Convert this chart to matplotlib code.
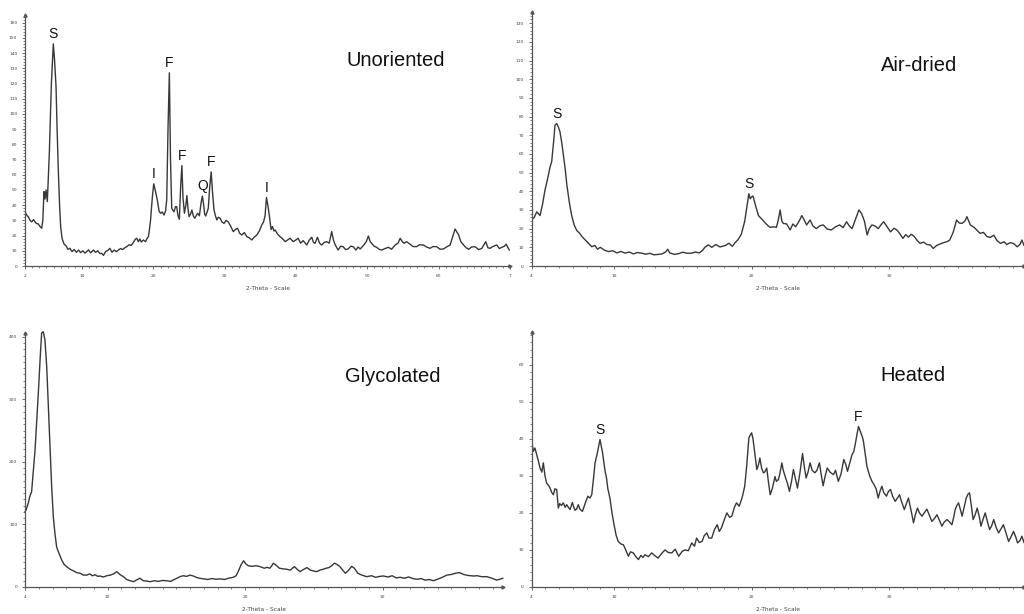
import numpy as np
import matplotlib
matplotlib.use("Agg")
import matplotlib.pyplot as plt
from matplotlib.ticker import MultipleLocator, FixedLocator, FixedFormatter

# ---------------- data ----------------
# Unoriented
unor_2theta = [2.0, 2.3, 2.47, 2.7, 2.94, 3.2, 3.4, 3.6, 3.87, 4.1, 4.34, 4.5, 4.66, 4.8, 4.95, 5.13, 5.41, 5.7,
               5.97, 6.15, 6.35, 6.5, 6.67, 6.85, 7.0, 7.2, 7.47, 7.8, 8.0, 8.3, 8.6, 8.9, 9.2, 9.5, 9.8, 10.1,
               10.4, 10.65, 10.9, 11.2, 11.6, 11.9, 12.2, 12.5, 12.76, 13.0, 13.3, 13.6, 13.9, 14.2, 14.5, 14.8,
               15.1, 15.4, 15.7, 16.0, 16.26, 16.6, 16.9, 17.2, 17.45, 17.67, 17.9, 18.1, 18.3, 18.6, 18.9, 19.1,
               19.3, 19.45, 19.6, 19.85, 20.05, 20.3, 20.55, 20.8, 21.0, 21.25, 21.5, 21.7, 21.87, 22.05, 22.24,
               22.4, 22.57, 22.75, 22.9, 23.1, 23.27, 23.45, 23.64, 23.85, 24.0, 24.15, 24.35, 24.55, 24.7, 24.85,
               25.0, 25.2, 25.4, 25.6, 25.8, 26.0, 26.2, 26.45, 26.7, 26.87, 27.05, 27.2, 27.34, 27.5, 27.7, 27.9,
               28.1, 28.3, 28.5, 28.7, 28.9, 29.1, 29.35, 29.6, 29.9, 30.2, 30.5, 30.85, 31.2, 31.5, 31.8, 32.1,
               32.4, 32.75, 33.1, 33.45, 33.8, 34.15, 34.5, 34.85, 35.2, 35.45, 35.66, 35.85, 36.05, 36.26, 36.5,
               36.7, 36.9, 37.06, 37.4, 37.76, 38.1, 38.47, 38.8, 39.17, 39.6, 39.95, 40.3, 40.65, 41.0, 41.5,
               41.85, 42.2, 42.45, 42.67, 43.0, 43.3, 43.6, 43.95, 44.3, 44.65, 45.0, 45.25, 45.5, 45.9, 46.25,
               46.6, 46.95, 47.3, 47.65, 48.0, 48.4, 48.7, 49.0, 49.5, 49.85, 50.15, 50.4, 50.6, 50.95, 51.3,
               51.65, 52.0, 52.5, 52.95, 53.4, 53.9, 54.3, 54.6, 54.9, 55.15, 55.5, 56.0, 56.4, 56.9, 57.3, 57.86,
               58.3, 58.8, 59.2, 59.7, 60.2, 60.67, 61.1, 61.6, 61.95, 62.3, 62.8, 63.1, 63.5, 63.85, 64.2, 64.6,
               65.1, 65.6, 66.05, 66.6, 66.9, 67.2, 67.6, 68.15, 68.5, 68.86, 69.2, 69.46, 69.9]
unor_counts = [35.7, 33, 32.4, 30, 29, 30.5, 29, 28, 27.6, 26, 24.8, 30, 48.9, 44, 50, 42.3, 74, 120,
               146, 135, 118, 90, 63, 40, 25.9, 18, 14.5, 13, 11, 11.6, 9.5, 10.8, 9, 10.5, 8.8, 10,
               8.5, 9.4, 10.6, 8.7, 10.5, 9, 10, 8.2, 8.3, 7, 9.5, 10.2, 11.6, 9, 10.5, 9.4,
               10.5, 11.5, 10.8, 12, 12.7, 14, 13.5, 15.5, 17.5, 18.2, 16, 17.8, 15.8, 17.1, 16, 18,
               19.3, 24, 30, 45, 54, 49, 43.4, 36, 34.7, 35.5, 33.5, 36, 43.4, 90, 127,
               70, 38, 36.5, 35.7, 39, 39, 33, 30.7, 55, 66, 45, 34.7, 40, 46.3, 38,
               32.4, 34, 36.8, 33, 31.4, 33, 34.7, 33, 42, 46, 40, 34, 32.9, 35, 38, 52,
               61.8, 48, 36.8, 33, 30.3, 32, 31.4, 29, 28, 30, 29, 26, 22.6, 24, 24.8, 21.5,
               20.4, 22, 19.3, 18.5, 17.1, 19, 20.4, 23, 27, 29, 33, 45, 40, 33, 24,
               25.9, 23, 23.7, 21, 19.3, 18, 16, 17, 18.2, 16, 17, 18.2, 15, 16.7, 13.8,
               17, 18.9, 15.5, 14.9, 18.9, 15, 13.8, 15.5, 16, 15, 22.6, 17, 13.8, 10.5, 13,
               12.7, 10.8, 11.2, 13, 12.7, 10.5, 12.5, 11.2, 13.8, 16, 19.7, 16, 14.9, 13, 12.3,
               11, 10.5, 11.5, 12.3, 11, 13.8, 15, 18.2, 16, 14.9, 16, 14.3, 12.8, 12.7, 14, 13.8,
               12.5, 11.6, 12.8, 12.7, 11, 11.2, 12.5, 13.8, 19, 24.3, 20.4, 16, 13.8, 12, 11, 12.5,
               12.7, 10.8, 11.6, 16, 12, 11.6, 12.8, 13.8, 11.5, 12.3, 13, 14.3, 10.5]
unor_peak_x = [5.97, 22.24, 20.05, 24.0, 26.87, 28.1, 35.85]
unor_peak_y = [146, 127, 54, 66, 46, 61.8, 45]
unor_peak_lab = ["S", "F", "I", "F", "Q", "F", "I"]

# Air-dried
air_2theta = [4.0, 4.2, 4.38, 4.5, 4.62, 4.8, 4.98, 5.15, 5.35, 5.47, 5.6, 5.71, 5.83, 5.95, 6.07, 6.2, 6.31,
              6.45, 6.56, 6.75, 6.92, 7.1, 7.29, 7.5, 7.7, 7.9, 8.1, 8.38, 8.6, 8.8, 9.0, 9.3, 9.6, 9.9, 10.2,
              10.5, 10.8, 11.1, 11.4, 11.7, 12.0, 12.3, 12.6, 12.9, 13.2, 13.5, 13.75, 13.9, 14.05, 14.4, 14.7,
              15.0, 15.3, 15.65, 15.9, 16.2, 16.45, 16.6, 16.85, 17.1, 17.4, 17.7, 18.1, 18.35, 18.6, 18.8,
              19.0, 19.25, 19.5, 19.7, 19.8, 19.9, 20.0, 20.1, 20.3, 20.5, 20.75, 21.0, 21.2, 21.35, 21.6,
              21.8, 21.95, 22.07, 22.2, 22.3, 22.55, 22.8, 23.0, 23.2, 23.45, 23.65, 23.8, 24.0, 24.25, 24.45,
              24.7, 24.95, 25.2, 25.5, 25.8, 26.1, 26.4, 26.65, 26.9, 27.1, 27.3, 27.55, 27.8, 28.0, 28.2,
              28.4, 28.55, 28.75, 29.0, 29.2, 29.4, 29.6, 29.85, 30.1, 30.35, 30.56, 30.8, 31.0, 31.2, 31.4,
              31.6, 31.8, 32.05, 32.25, 32.5, 32.75, 33.0, 33.2, 33.45, 33.7, 33.95, 34.2, 34.4, 34.65, 34.9,
              35.1, 35.3, 35.5, 35.65, 35.9, 36.2, 36.4, 36.6, 36.85, 37.1, 37.35, 37.6, 37.85, 38.1, 38.35,
              38.55, 38.8, 39.05, 39.3, 39.5, 39.65, 39.8]
air_counts = [24.6, 26, 29, 28, 27, 33, 40.6, 46, 53, 56, 66, 75.4, 76.3, 74.5, 71.8, 66, 60,
              52, 44, 34, 27, 22, 19, 17.5, 15.5, 14, 12.5, 10.3, 11, 9, 10, 8.5, 7.7, 8.2, 7,
              7.8, 6.9, 7.5, 6.5, 7.2, 6.9, 6.3, 6.8, 6.0, 6.2, 6.5, 7.5, 9, 7, 6.2, 6.6,
              7.4, 6.8, 6.9, 7.5, 7, 8.5, 10, 11.3, 10, 11.5, 10.2, 11, 12.2, 10.5, 12.5,
              14, 17, 24, 34, 38.7, 36, 37, 37.5, 32, 27, 25, 23, 21.5, 20.7, 21,
              20.7, 25, 30, 24, 22.8, 22.5, 19.3, 22.5, 21, 24, 27, 25, 22, 24.6, 21.5,
              20, 21.5, 22, 19.8, 19.3, 21, 22, 20.5, 23.7, 21.5, 20, 25, 30, 28, 24,
              16.6, 20, 22, 21.3, 20, 22, 23.7, 21, 18.3, 20.2, 19.3, 17, 14.8, 16.8, 15.5,
              17, 16, 13.5, 12.1, 12.8, 11.5, 11.2, 9.4, 11, 11.8, 12.5, 13, 13.9, 18, 24.6,
              23, 22.8, 24, 26.4, 22, 20.5, 19, 17.5, 18, 15.8, 15.3, 16.5, 13.5, 12.1, 13,
              11.5, 12.5, 12, 10.3, 11.5, 13.9, 11]
air_peak_x = [5.83, 19.8]
air_peak_y = [76.3, 38.7]
air_peak_lab = ["S", "S"]

# Glycolated
gly_2theta = [4.0, 4.07, 4.24, 4.35, 4.48, 4.6, 4.73, 4.85, 4.97, 5.1, 5.21, 5.33, 5.45, 5.58, 5.7, 5.82,
              5.94, 6.06, 6.18, 6.3, 6.45, 6.67, 6.85, 7.03, 7.3, 7.5, 7.76, 8.0, 8.25, 8.49, 8.7, 8.9, 9.1,
              9.3, 9.45, 9.7, 9.95, 10.2, 10.45, 10.67, 10.9, 11.15, 11.4, 11.65, 11.88, 12.1, 12.36, 12.6,
              12.85, 13.1, 13.4, 13.7, 14.0, 14.3, 14.6, 14.85, 15.05, 15.27, 15.5, 15.75, 16.0, 16.25, 16.5,
              16.7, 17.0, 17.3, 17.6, 17.9, 18.2, 18.5, 18.8, 19.15, 19.35, 19.5, 19.7, 19.9, 20.05, 20.24,
              20.5, 20.8, 21.1, 21.4, 21.6, 21.8, 21.95, 22.06, 22.25, 22.5, 22.75, 23.0, 23.3, 23.45, 23.6,
              23.8, 24.0, 24.25, 24.5, 24.75, 25.0, 25.2, 25.45, 25.7, 25.9, 26.1, 26.3, 26.5, 26.7, 26.9,
              27.1, 27.3, 27.5, 27.76, 27.95, 28.2, 28.5, 28.85, 29.2, 29.5, 29.8, 30.06, 30.4, 30.7, 31.0,
              31.27, 31.6, 31.9, 32.2, 32.5, 32.8, 33.1, 33.4, 33.7, 34.0, 34.3, 34.67, 35.0, 35.3, 35.6,
              35.9, 36.2, 36.6, 36.9, 37.2, 37.6, 37.95, 38.3, 38.55, 38.74]
gly_counts = [120, 123, 134, 145, 152, 185, 219, 265, 310, 365, 406, 408, 395, 352, 290, 224,
              160, 112, 85, 64, 55, 43, 36, 32.5, 28, 26, 23, 22, 19, 19, 21, 18, 19.5,
              17, 17.6, 16, 18, 19, 21, 24.5, 20, 16.5, 12, 10, 8.5, 11, 14, 10,
              9.5, 8.5, 10, 9, 10.5, 10, 9, 12, 14, 16.5, 18, 17, 19, 17.5, 15,
              14, 13, 12, 13.5, 12.3, 13, 12, 14, 15.5, 18, 24.5, 35, 42, 37, 34,
              33, 34, 32.5, 30, 31.5, 30, 34, 38, 35, 30, 29, 28.5, 27, 30, 32.5,
              28, 24.5, 28, 31, 27, 25.5, 24.5, 27, 28.5, 30, 31, 34, 38, 36, 32.5,
              27, 22, 26, 33, 30, 22, 19, 16.5, 18, 15.5, 17, 17.6, 16, 18, 14.5,
              15.5, 14, 16, 13.5, 12.3, 13.5, 11, 12, 10, 12.5, 15, 19, 20, 22, 23,
              20, 18.5, 17.6, 18, 16.5, 16.5, 14, 11, 12.5, 14]
gly_peak_x = [5.33]
gly_peak_y = [408]
gly_peak_lab = ["S"]

# Heated
heat_2theta = [4.0, 4.13, 4.25, 4.38, 4.5, 4.62, 4.75, 4.86, 4.98, 5.1, 5.22, 5.35, 5.47, 5.59, 5.7, 5.83,
               5.95, 6.05, 6.18, 6.31, 6.45, 6.56, 6.68, 6.8, 6.97, 7.05, 7.16, 7.28, 7.4, 7.52, 7.7, 7.85,
               8.0, 8.1, 8.25, 8.38, 8.5, 8.62, 8.75, 8.88, 8.98, 9.07, 9.15, 9.25, 9.35, 9.45, 9.55, 9.7,
               9.85, 10.0, 10.15, 10.3, 10.5, 10.68, 10.85, 11.04, 11.2, 11.4, 11.58, 11.77, 11.95, 12.1,
               12.25, 12.5, 12.74, 12.95, 13.2, 13.45, 13.7, 13.95, 14.2, 14.45, 14.7, 14.95, 15.16, 15.4,
               15.65, 15.85, 16.0, 16.2, 16.4, 16.55, 16.74, 16.9, 17.1, 17.3, 17.5, 17.65, 17.8, 18.0, 18.2,
               18.4, 18.56, 18.75, 18.9, 19.1, 19.3, 19.4, 19.5, 19.65, 19.8, 19.9, 20.0, 20.1, 20.2, 20.3,
               20.38, 20.5, 20.6, 20.73, 20.86, 20.95, 21.1, 21.2, 21.35, 21.5, 21.7, 21.8, 21.95, 22.05,
               22.2, 22.3, 22.44, 22.6, 22.75, 22.9, 23.04, 23.2, 23.33, 23.5, 23.7, 23.85, 23.96, 24.1,
               24.25, 24.4, 24.6, 24.75, 24.93, 25.05, 25.2, 25.35, 25.5, 25.7, 25.95, 26.1, 26.3, 26.5,
               26.7, 26.85, 26.97, 27.1, 27.3, 27.42, 27.53, 27.65, 27.77, 27.85, 27.94, 28.05, 28.13,
               28.25, 28.38, 28.5, 28.6, 28.75, 28.9, 29.05, 29.2, 29.35, 29.47, 29.6, 29.8, 29.95, 30.1,
               30.25, 30.44, 30.6, 30.75, 30.9, 31.1, 31.25, 31.4, 31.6, 31.77, 31.9, 32.06, 32.2, 32.38,
               32.55, 32.74, 32.9, 33.1, 33.3, 33.47, 33.65, 33.83, 34.0, 34.2, 34.4, 34.56, 34.7, 34.8,
               34.92, 35.04, 35.17, 35.3, 35.45, 35.6, 35.72, 35.84, 35.97, 36.1, 36.25, 36.4, 36.55,
               36.67, 36.8, 36.98, 37.15, 37.3, 37.45, 37.6, 37.78, 37.95, 38.1, 38.3, 38.5, 38.68, 38.85,
               39.04, 39.2, 39.33, 39.5, 39.65, 39.8]
heat_counts = [39.8, 36.6, 37.5, 35.7, 34, 32.1, 31, 33.5, 30, 28, 27.5, 26.7, 25.5, 24.9, 26.5, 26.3,
               21.3, 22.5, 22, 22.7, 21.5, 22.2, 21.5, 20.9, 22.8, 21.8, 20.7, 21, 22.2, 21, 20.4, 22,
               23.6, 24.5, 24, 24.9, 29, 33.5, 35.5, 38, 39.8, 38, 36.6, 34, 31.2, 29.5, 26.5, 24,
               20, 16.8, 14, 12.3, 11.6, 11.4, 10, 8.3, 9.5, 9.2, 8.2, 7.4, 8.5, 8,
               8.7, 8.2, 9.2, 8.5, 7.8, 9, 10, 9.3, 9.2, 10.2, 8.3, 9.6, 10, 9.8,
               11.9, 11, 13.2, 12, 12.3, 13.8, 14.6, 13.2, 13.2, 15.5, 16.8, 15, 15.9, 18, 20,
               18.8, 19.1, 21.5, 22.7, 21.8, 24, 25.5, 27.2, 33, 40.2, 41, 41.6, 40, 37, 34,
               31.7, 33, 34.8, 32, 30.8, 31, 32.1, 29, 24.9, 26.5, 29.8, 28.5, 29, 30.5,
               33.5, 31.5, 29.8, 28, 25.8, 28.5, 31.7, 29, 26.7, 30.5, 36, 32, 29.4, 31,
               33.5, 31.5, 30.8, 31.5, 33.5, 30.5, 27.3, 30, 32.1, 31, 30.3, 31.5, 28.5, 30.5,
               34.4, 33, 31.2, 33, 35.7, 36.5, 38.4, 41, 43.3, 42.5, 41.6, 40.5, 39.3,
               36, 32.6, 31, 29.8, 28.5, 27.6, 26.5, 24, 26, 27.2, 25.5, 24.5, 25.8, 26.3,
               24.5, 23.1, 24, 24.9, 23, 20.9, 22.5, 24, 20.5, 17.3, 19.5, 21.3, 20, 19.1,
               20, 21, 19.5, 17.7, 18.5, 19.5, 18, 16.4, 17.5, 18.2, 17.5, 16.8, 19, 20.9,
               22, 22.7, 21, 19.1, 21.5, 24, 25, 25.4, 22, 18.2, 19.5, 21.3, 19,
               16.4, 18, 20, 17.5, 15.5, 16.5, 18.2, 16, 14.6, 15.5, 16.8, 14.5, 12.3, 13.5,
               15, 13.5, 11.9, 12.5, 13.7, 12]
heat_peak_x = [8.98, 27.77]
heat_peak_y = [39.8, 43.3]
heat_peak_lab = ["S", "F"]

LINE = "#383838"
AX = "#555555"
W, H = 1024, 614


def px_axes(fig, left, right, bottom, top):
    # pixel box (top-left origin) -> figure fraction
    return fig.add_axes([left / W, (H - bottom) / H, (right - left) / W, (bottom - top) / H])


def setup(ax, xlim, ylim, xmajor, xlabels, ymajor, yminor):
    ax.set_xlim(*xlim)
    ax.set_ylim(*ylim)
    for s in ["top", "right"]:
        ax.spines[s].set_visible(False)
    for s in ["left", "bottom"]:
        ax.spines[s].set_color(AX)
        ax.spines[s].set_linewidth(0.9)
    ax.xaxis.set_major_locator(FixedLocator(xmajor))
    ax.xaxis.set_major_formatter(FixedFormatter(xlabels))
    ax.xaxis.set_minor_locator(MultipleLocator(1))
    ax.yaxis.set_major_locator(MultipleLocator(ymajor))
    ax.yaxis.set_minor_locator(MultipleLocator(yminor))
    ax.tick_params(axis="both", which="major", direction="out", length=2.5, width=0.6,
                   color=AX, labelsize=3.2, labelcolor="#444444")
    ax.tick_params(axis="both", which="minor", direction="out", length=1.5, width=0.5, color=AX)
    ax.tick_params(axis="x", which="major", pad=3)
    ax.tick_params(axis="y", which="major", pad=3)
    ax.set_xlabel("2-Theta - Scale", fontsize=4.2, color="#444444", labelpad=6)
    ax.patch.set_alpha(0)
    # small arrow heads at the ends of the axes
    ax.plot([0], [1], marker="^", ms=2.2, color=AX, transform=ax.transAxes, clip_on=False)
    ax.plot([1], [0], marker=">", ms=2.2, color=AX, transform=ax.transAxes, clip_on=False)


def peak_labels(ax, xs, ys, labs, off=7):
    for x, y, t in zip(xs, ys, labs):
        ax.annotate(t, (x, y), xytext=(0, off), textcoords="offset points", ha="center", va="center",
                    fontsize=10, family="Liberation Sans", color="#111111")


fig = plt.figure(figsize=(10.24, 6.14), dpi=100)
fig.patch.set_facecolor("white")

# top left - Unoriented
ax1 = px_axes(fig, 25, 510, 266, 15)
ax1.plot(unor_2theta, unor_counts, color=LINE, lw=1.0)
setup(ax1, (2, 70), (0, 165), [2, 10, 20, 30, 40, 50, 60, 70],
      ["2", "10", "20", "30", "40", "50", "60", "7"], 10, 2)
peak_labels(ax1, unor_peak_x, unor_peak_y, unor_peak_lab)
ax1.text(0.765, 0.82, "Unoriented", transform=ax1.transAxes, fontsize=14.5,
         family="Liberation Sans", ha="center", va="center", color="#111111")

# top right - Air-dried
ax2 = px_axes(fig, 531.5, 1024, 266, 12)
ax2.plot(air_2theta, air_counts, color=LINE, lw=1.0)
setup(ax2, (4, 39.8), (0, 136), [4, 10, 20, 30], ["4", "10", "20", "30"], 10, 2)
peak_labels(ax2, air_peak_x, air_peak_y, air_peak_lab)
ax2.text(0.787, 0.79, "Air-dried", transform=ax2.transAxes, fontsize=14.5,
         family="Liberation Sans", ha="center", va="center", color="#111111")

# bottom left - Glycolated
ax3 = px_axes(fig, 25, 503, 587, 333)
ax3.plot(gly_2theta, gly_counts, color=LINE, lw=1.0, clip_on=False)
setup(ax3, (4, 38.76), (0, 406), [4, 10, 20, 30], ["4", "10", "20", "30"], 100, 10)
peak_labels(ax3, gly_peak_x, gly_peak_y, gly_peak_lab, off=5)
ax3.text(0.77, 0.83, "Glycolated", transform=ax3.transAxes, fontsize=14.5,
         family="Liberation Sans", ha="center", va="center", color="#111111")

# bottom right - Heated
ax4 = px_axes(fig, 531.5, 1024, 587, 332)
ax4.plot(heat_2theta, heat_counts, color=LINE, lw=1.0)
setup(ax4, (4, 39.8), (0, 68.8), [4, 10, 20, 30, 40], ["4", "10", "20", "30", "4"], 10, 2)
peak_labels(ax4, heat_peak_x, heat_peak_y, heat_peak_lab)
ax4.text(0.775, 0.83, "Heated", transform=ax4.transAxes, fontsize=14.5,
         family="Liberation Sans", ha="center", va="center", color="#111111")

fig.savefig("out.png", dpi=100, facecolor="white")
